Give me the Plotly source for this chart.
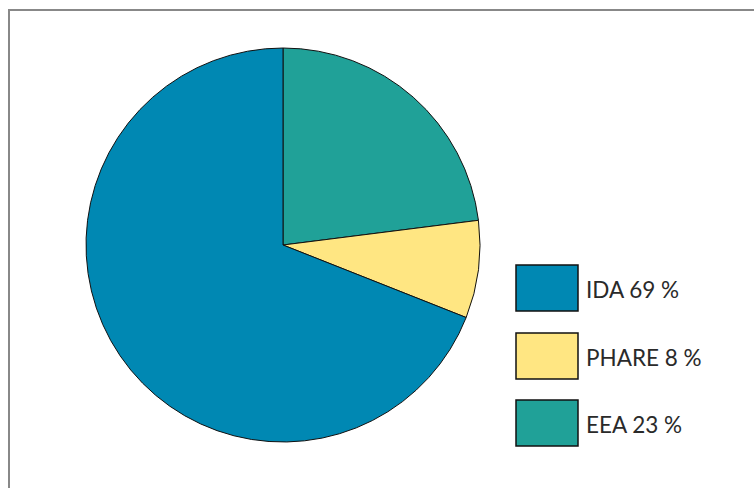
import plotly.graph_objects as go

labels = ["EEA", "PHARE", "IDA"]
values = [23, 8, 69]
colors = ["#20A198", "#FFE682", "#0088B3"]
legend_order = ["IDA", "PHARE", "EEA"]

W, H = 754, 488

fig = go.Figure(go.Pie(
    labels=labels, values=values, sort=False, direction="clockwise", rotation=0,
    marker=dict(colors=colors, line=dict(color="#111111", width=1)),
    textinfo="none", hoverinfo="label+percent", showlegend=False,
    domain=dict(x=[86 / W, 480 / W], y=[1 - 442 / H, 1 - 48 / H]),
))

shapes = [dict(type="rect", xref="paper", yref="paper",
               x0=9 / W, x1=1.05, y0=-0.05, y1=1 - 10 / H,
               line=dict(color="#888888", width=2), fillcolor="rgba(0,0,0,0)")]
annotations = []
box_tops = [265, 333, 400]
for name, top in zip(legend_order, box_tops):
    i = labels.index(name)
    shapes.append(dict(type="rect", xref="paper", yref="paper",
                       x0=516 / W, x1=578 / W, y0=1 - (top + 46) / H, y1=1 - top / H,
                       fillcolor=colors[i], line=dict(color="#111111", width=1.5)))
    annotations.append(dict(xref="paper", yref="paper", x=584 / W, y=1 - (top + 24) / H,
                            xanchor="left", yanchor="middle", showarrow=False,
                            text=f"{name} {values[i]} %",
                            font=dict(family="Lato", size=22.5, color="#2a2a2a")))

fig.update_layout(width=W, height=H, margin=dict(l=0, r=0, t=0, b=0),
                  paper_bgcolor="white", plot_bgcolor="white",
                  shapes=shapes, annotations=annotations)
fig.write_html("out.html")
